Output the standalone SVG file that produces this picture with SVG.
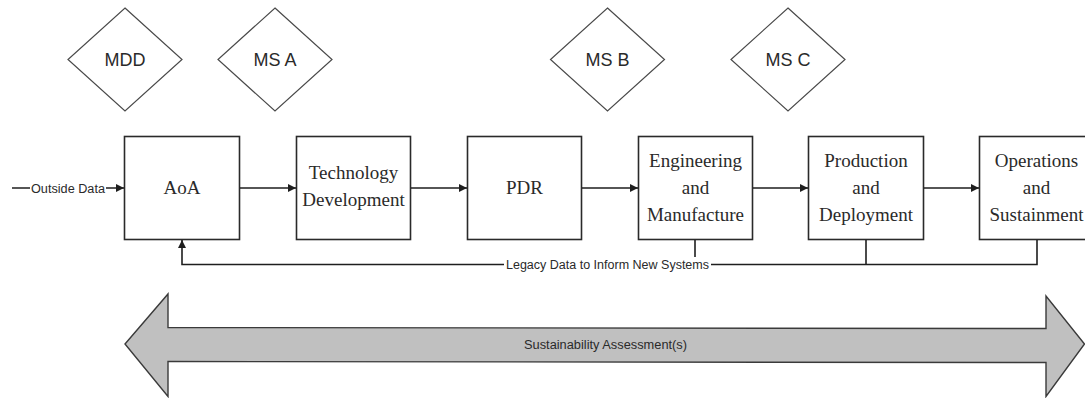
<svg xmlns="http://www.w3.org/2000/svg" width="1085" height="398" viewBox="0 0 1085 398">
  <style>
    .ms { fill: #ffffff; stroke: #4a4a4a; stroke-width: 1.2; }
    .ms-label { font-family: "Liberation Sans", Arial, sans-serif; font-size: 18px; fill: #2a2a2a; text-anchor: middle; }
    .box { fill: #ffffff; stroke: #2a2a2a; stroke-width: 1.6; }
    .box-label { font-family: "Liberation Serif", "Times New Roman", serif; font-size: 19px; fill: #2a2a2a; text-anchor: middle; }
    .wire { fill: none; stroke: #1e1e1e; stroke-width: 1.6; }
    .tag { font-family: "Liberation Sans", Arial, sans-serif; font-size: 12.5px; fill: #2a2a2a; text-anchor: middle; }
    .band { fill: #c0c0c0; stroke: #3a3a3a; stroke-width: 1.4; stroke-linejoin: miter; }
  </style>
  <defs>
    <marker id="head" viewBox="0 0 10 10" refX="10" refY="5" markerWidth="8" markerHeight="8" markerUnits="userSpaceOnUse" orient="auto">
      <path d="M0,0 L10,5 L0,10 z" fill="#1e1e1e"/>
    </marker>
  </defs>

  <rect width="1085" height="398" fill="#ffffff"/>

  <!-- milestones -->
  <g id="mdd">
    <polygon class="ms" points="125,8 182,59.5 125,111 68,59.5"/>
    <text class="ms-label" x="125" y="66">MDD</text>
  </g>
  <g id="ms-a">
    <polygon class="ms" points="275,8 332,59.5 275,111 218,59.5"/>
    <text class="ms-label" x="275" y="66">MS A</text>
  </g>
  <g id="ms-b">
    <polygon class="ms" points="607.5,8 664.5,59.5 607.5,111 550.5,59.5"/>
    <text class="ms-label" x="607.5" y="66">MS B</text>
  </g>
  <g id="ms-c">
    <polygon class="ms" points="788,8 845,59.5 788,111 731,59.5"/>
    <text class="ms-label" x="788" y="66">MS C</text>
  </g>

  <!-- phases -->
  <g id="aoa">
    <rect class="box" x="124.5" y="136.5" width="115" height="103"/>
    <text class="box-label" x="182" y="194">AoA</text>
  </g>
  <g id="tech-dev">
    <rect class="box" x="296.5" y="136.5" width="114" height="103"/>
    <text class="box-label" x="353.5" y="179">Technology</text>
    <text class="box-label" x="353.5" y="206">Development</text>
  </g>
  <g id="pdr">
    <rect class="box" x="467.5" y="136.5" width="114" height="103"/>
    <text class="box-label" x="524.5" y="194">PDR</text>
  </g>
  <g id="emd">
    <rect class="box" x="638.5" y="136.5" width="114" height="103"/>
    <text class="box-label" x="695.5" y="167">Engineering</text>
    <text class="box-label" x="695.5" y="194">and</text>
    <text class="box-label" x="695.5" y="221">Manufacture</text>
  </g>
  <g id="prod-deploy">
    <rect class="box" x="808.5" y="136.5" width="115" height="103"/>
    <text class="box-label" x="866" y="167">Production</text>
    <text class="box-label" x="866" y="194">and</text>
    <text class="box-label" x="866" y="221">Deployment</text>
  </g>
  <g id="ops-sustain">
    <rect class="box" x="979.5" y="136.5" width="115" height="103"/>
    <text class="box-label" x="1036.5" y="167">Operations</text>
    <text class="box-label" x="1036.5" y="194">and</text>
    <text class="box-label" x="1036.5" y="221">Sustainment</text>
  </g>

  <!-- flows -->
  <g id="connectors">
    <line class="wire" x1="12" y1="188" x2="124" y2="188" marker-end="url(#head)"/>
    <rect x="30" y="180" width="76" height="16" fill="#ffffff"/>
    <text class="tag" x="68" y="192.5" textLength="74" lengthAdjust="spacingAndGlyphs">Outside Data</text>

    <line class="wire" x1="240" y1="188" x2="296" y2="188" marker-end="url(#head)"/>
    <line class="wire" x1="411" y1="188" x2="467" y2="188" marker-end="url(#head)"/>
    <line class="wire" x1="582" y1="188" x2="638" y2="188" marker-end="url(#head)"/>
    <line class="wire" x1="753" y1="188" x2="808" y2="188" marker-end="url(#head)"/>
    <line class="wire" x1="924" y1="188" x2="979" y2="188" marker-end="url(#head)"/>

    <!-- legacy feedback loop -->
    <polyline class="wire" points="1037,240 1037,264.5 182,264.5 182,240" marker-end="url(#head)"/>
    <line class="wire" x1="866" y1="240" x2="866" y2="264.5"/>
    <line class="wire" x1="695" y1="240" x2="695" y2="264.5"/>
    <rect x="504" y="257" width="207" height="16" fill="#ffffff"/>
    <text class="tag" x="607.5" y="269" textLength="203" lengthAdjust="spacingAndGlyphs">Legacy Data to Inform New Systems</text>
  </g>

  <!-- lifecycle band -->
  <g id="sustainability">
    <polygon class="band" points="125,344 168,294 168,327.5 1046,328.5 1046,296 1084.5,344 1046,396.5 1046,362.5 168,361.5 168,396.5"/>
    <text class="tag" x="605.5" y="349" textLength="163" lengthAdjust="spacingAndGlyphs">Sustainability Assessment(s)</text>
  </g>
</svg>
